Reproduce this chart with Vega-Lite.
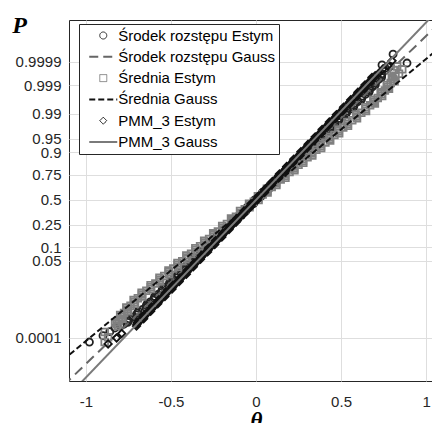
{
  "$schema": "https://vega.github.io/schema/vega-lite/v6.json",
  "autosize": {"type": "none"},
  "padding": {"left": 69, "top": 20, "right": 0, "bottom": 42},
  "width": 363,
  "height": 361,
  "background": "white",
  "config": {
    "view": {"stroke": "#262626", "strokeWidth": 1},
    "font": "Liberation Sans",
    "axis": {"labelFont": "Liberation Sans", "labelFontSize": 15, "labelColor": "#262626", "gridColor": "#dedede", "gridWidth": 1, "domain": false, "ticks": false}
  },
  "datasets": {
    "circ": [
      {"theta": -0.798, "z": -3.4}, {"theta": -0.755, "z": -3.3}, {"theta": -0.745, "z": -3.2}, {"theta": -0.702, "z": -3.1}, {"theta": -0.693, "z": -3.0},
      {"theta": -0.648, "z": -2.9}, {"theta": -0.641, "z": -2.8}, {"theta": -0.603, "z": -2.7}, {"theta": -0.596, "z": -2.6}, {"theta": -0.558, "z": -2.5},
      {"theta": -0.551, "z": -2.4}, {"theta": -0.512, "z": -2.3}, {"theta": -0.506, "z": -2.2}, {"theta": -0.467, "z": -2.1}, {"theta": -0.460, "z": -2.0},
      {"theta": -0.422, "z": -1.9}, {"theta": -0.415, "z": -1.8}, {"theta": -0.377, "z": -1.7}, {"theta": -0.370, "z": -1.6}, {"theta": -0.331, "z": -1.5},
      {"theta": -0.325, "z": -1.4}, {"theta": -0.286, "z": -1.3}, {"theta": -0.279, "z": -1.2}, {"theta": -0.241, "z": -1.1}, {"theta": -0.234, "z": -1.0},
      {"theta": -0.196, "z": -0.9}, {"theta": -0.189, "z": -0.8}, {"theta": -0.150, "z": -0.7}, {"theta": -0.144, "z": -0.6}, {"theta": -0.105, "z": -0.5},
      {"theta": -0.098, "z": -0.4}, {"theta": -0.060, "z": -0.3}, {"theta": -0.053, "z": -0.2}, {"theta": -0.015, "z": -0.1}, {"theta": -0.008, "z": 0.0},
      {"theta": 0.031, "z": 0.1}, {"theta": 0.037, "z": 0.2}, {"theta": 0.076, "z": 0.3}, {"theta": 0.082, "z": 0.4}, {"theta": 0.121, "z": 0.5},
      {"theta": 0.128, "z": 0.6}, {"theta": 0.166, "z": 0.7}, {"theta": 0.173, "z": 0.8}, {"theta": 0.212, "z": 0.9}, {"theta": 0.218, "z": 1.0},
      {"theta": 0.257, "z": 1.1}, {"theta": 0.263, "z": 1.2}, {"theta": 0.302, "z": 1.3}, {"theta": 0.309, "z": 1.4}, {"theta": 0.347, "z": 1.5},
      {"theta": 0.354, "z": 1.6}, {"theta": 0.393, "z": 1.7}, {"theta": 0.399, "z": 1.8}, {"theta": 0.438, "z": 1.9}, {"theta": 0.444, "z": 2.0},
      {"theta": 0.483, "z": 2.1}, {"theta": 0.490, "z": 2.2}, {"theta": 0.528, "z": 2.3}, {"theta": 0.535, "z": 2.4}, {"theta": 0.574, "z": 2.5},
      {"theta": 0.580, "z": 2.6}, {"theta": 0.619, "z": 2.7}, {"theta": 0.625, "z": 2.8}, {"theta": 0.664, "z": 2.9}, {"theta": 0.667, "z": 3.0},
      {"theta": 0.701, "z": 3.1}, {"theta": 0.704, "z": 3.2}, {"theta": 0.738, "z": 3.3}, {"theta": 0.740, "z": 3.4},
      {"theta": -0.777, "z": -3.35}, {"theta": -0.750, "z": -3.25}, {"theta": -0.723, "z": -3.15}, {"theta": -0.698, "z": -3.05}, {"theta": -0.667, "z": -2.95},
      {"theta": -0.645, "z": -2.85}, {"theta": -0.622, "z": -2.75}, {"theta": -0.599, "z": -2.65}, {"theta": -0.577, "z": -2.55}, {"theta": -0.554, "z": -2.45},
      {"theta": -0.532, "z": -2.35}, {"theta": -0.509, "z": -2.25}, {"theta": -0.486, "z": -2.15}, {"theta": -0.464, "z": -2.05}, {"theta": -0.441, "z": -1.95},
      {"theta": -0.418, "z": -1.85}, {"theta": -0.396, "z": -1.75}, {"theta": -0.373, "z": -1.65}, {"theta": -0.351, "z": -1.55}, {"theta": -0.328, "z": -1.45},
      {"theta": -0.305, "z": -1.35}, {"theta": -0.283, "z": -1.25}, {"theta": -0.260, "z": -1.15}, {"theta": -0.238, "z": -1.05}, {"theta": -0.215, "z": -0.95},
      {"theta": -0.192, "z": -0.85}, {"theta": -0.170, "z": -0.75}, {"theta": -0.147, "z": -0.65}, {"theta": -0.124, "z": -0.55}, {"theta": -0.102, "z": -0.45},
      {"theta": -0.079, "z": -0.35}, {"theta": -0.057, "z": -0.25}, {"theta": -0.034, "z": -0.15}, {"theta": -0.011, "z": -0.05},
      {"theta": 0.011, "z": 0.05}, {"theta": 0.034, "z": 0.15}, {"theta": 0.057, "z": 0.25}, {"theta": 0.079, "z": 0.35}, {"theta": 0.102, "z": 0.45},
      {"theta": 0.124, "z": 0.55}, {"theta": 0.147, "z": 0.65}, {"theta": 0.170, "z": 0.75}, {"theta": 0.192, "z": 0.85}, {"theta": 0.215, "z": 0.95},
      {"theta": 0.238, "z": 1.05}, {"theta": 0.260, "z": 1.15}, {"theta": 0.283, "z": 1.25}, {"theta": 0.305, "z": 1.35}, {"theta": 0.328, "z": 1.45},
      {"theta": 0.351, "z": 1.55}, {"theta": 0.373, "z": 1.65}, {"theta": 0.396, "z": 1.75}, {"theta": 0.418, "z": 1.85}, {"theta": 0.441, "z": 1.95},
      {"theta": 0.464, "z": 2.05}, {"theta": 0.486, "z": 2.15}, {"theta": 0.509, "z": 2.25}, {"theta": 0.532, "z": 2.35}, {"theta": 0.554, "z": 2.45},
      {"theta": 0.577, "z": 2.55}, {"theta": 0.599, "z": 2.65}, {"theta": 0.622, "z": 2.75}, {"theta": 0.645, "z": 2.85}, {"theta": 0.667, "z": 2.95},
      {"theta": 0.684, "z": 3.05}, {"theta": 0.702, "z": 3.15}, {"theta": 0.721, "z": 3.25}, {"theta": 0.739, "z": 3.35},
      {"theta": -0.98, "z": -3.83}, {"theta": -0.86, "z": -3.55}, {"theta": -0.90, "z": -3.66}, {"theta": -0.83, "z": -3.45},
      {"theta": 0.76, "z": 3.55}, {"theta": 0.741, "z": 3.64}, {"theta": 0.806, "z": 3.93}, {"theta": 0.888, "z": 3.69}, {"theta": 0.79, "z": 3.6}
    ],
    "sq": [
      {"theta": -0.811, "z": -3.4}, {"theta": -0.829, "z": -3.3}, {"theta": -0.785, "z": -3.2}, {"theta": -0.799, "z": -3.1}, {"theta": -0.752, "z": -3.0},
      {"theta": -0.763, "z": -2.9}, {"theta": -0.712, "z": -2.8}, {"theta": -0.720, "z": -2.7}, {"theta": -0.669, "z": -2.6}, {"theta": -0.673, "z": -2.5},
      {"theta": -0.617, "z": -2.4}, {"theta": -0.620, "z": -2.3}, {"theta": -0.564, "z": -2.2}, {"theta": -0.568, "z": -2.1}, {"theta": -0.511, "z": -2.0},
      {"theta": -0.515, "z": -1.9}, {"theta": -0.459, "z": -1.8}, {"theta": -0.462, "z": -1.7}, {"theta": -0.406, "z": -1.6}, {"theta": -0.410, "z": -1.5},
      {"theta": -0.353, "z": -1.4}, {"theta": -0.357, "z": -1.3}, {"theta": -0.301, "z": -1.2}, {"theta": -0.305, "z": -1.1}, {"theta": -0.248, "z": -1.0},
      {"theta": -0.252, "z": -0.9}, {"theta": -0.196, "z": -0.8}, {"theta": -0.199, "z": -0.7}, {"theta": -0.143, "z": -0.6}, {"theta": -0.147, "z": -0.5},
      {"theta": -0.090, "z": -0.4}, {"theta": -0.094, "z": -0.3}, {"theta": -0.038, "z": -0.2}, {"theta": -0.041, "z": -0.1}, {"theta": 0.015, "z": 0.0},
      {"theta": 0.011, "z": 0.1}, {"theta": 0.068, "z": 0.2}, {"theta": 0.064, "z": 0.3}, {"theta": 0.120, "z": 0.4}, {"theta": 0.117, "z": 0.5},
      {"theta": 0.173, "z": 0.6}, {"theta": 0.169, "z": 0.7}, {"theta": 0.226, "z": 0.8}, {"theta": 0.222, "z": 0.9}, {"theta": 0.278, "z": 1.0},
      {"theta": 0.275, "z": 1.1}, {"theta": 0.331, "z": 1.2}, {"theta": 0.327, "z": 1.3}, {"theta": 0.383, "z": 1.4}, {"theta": 0.380, "z": 1.5},
      {"theta": 0.436, "z": 1.6}, {"theta": 0.432, "z": 1.7}, {"theta": 0.489, "z": 1.8}, {"theta": 0.485, "z": 1.9}, {"theta": 0.541, "z": 2.0},
      {"theta": 0.538, "z": 2.1}, {"theta": 0.594, "z": 2.2}, {"theta": 0.590, "z": 2.3}, {"theta": 0.647, "z": 2.4}, {"theta": 0.643, "z": 2.5},
      {"theta": 0.699, "z": 2.6}, {"theta": 0.690, "z": 2.7}, {"theta": 0.742, "z": 2.8}, {"theta": 0.733, "z": 2.9}, {"theta": 0.782, "z": 3.0},
      {"theta": 0.769, "z": 3.1}, {"theta": 0.815, "z": 3.2}, {"theta": 0.799, "z": 3.3}, {"theta": 0.841, "z": 3.4},
      {"theta": -0.820, "z": -3.35}, {"theta": -0.807, "z": -3.25}, {"theta": -0.792, "z": -3.15}, {"theta": -0.776, "z": -3.05}, {"theta": -0.758, "z": -2.95},
      {"theta": -0.738, "z": -2.85}, {"theta": -0.716, "z": -2.75}, {"theta": -0.695, "z": -2.65}, {"theta": -0.671, "z": -2.55}, {"theta": -0.645, "z": -2.45},
      {"theta": -0.619, "z": -2.35}, {"theta": -0.592, "z": -2.25}, {"theta": -0.566, "z": -2.15}, {"theta": -0.540, "z": -2.05}, {"theta": -0.513, "z": -1.95},
      {"theta": -0.487, "z": -1.85}, {"theta": -0.461, "z": -1.75}, {"theta": -0.434, "z": -1.65}, {"theta": -0.408, "z": -1.55}, {"theta": -0.382, "z": -1.45},
      {"theta": -0.355, "z": -1.35}, {"theta": -0.329, "z": -1.25}, {"theta": -0.303, "z": -1.15}, {"theta": -0.276, "z": -1.05}, {"theta": -0.250, "z": -0.95},
      {"theta": -0.224, "z": -0.85}, {"theta": -0.197, "z": -0.75}, {"theta": -0.171, "z": -0.65}, {"theta": -0.145, "z": -0.55}, {"theta": -0.118, "z": -0.45},
      {"theta": -0.092, "z": -0.35}, {"theta": -0.066, "z": -0.25}, {"theta": -0.039, "z": -0.15}, {"theta": -0.013, "z": -0.05},
      {"theta": 0.013, "z": 0.05}, {"theta": 0.039, "z": 0.15}, {"theta": 0.066, "z": 0.25}, {"theta": 0.092, "z": 0.35}, {"theta": 0.118, "z": 0.45},
      {"theta": 0.145, "z": 0.55}, {"theta": 0.171, "z": 0.65}, {"theta": 0.197, "z": 0.75}, {"theta": 0.224, "z": 0.85}, {"theta": 0.250, "z": 0.95},
      {"theta": 0.276, "z": 1.05}, {"theta": 0.303, "z": 1.15}, {"theta": 0.329, "z": 1.25}, {"theta": 0.355, "z": 1.35}, {"theta": 0.382, "z": 1.45},
      {"theta": 0.408, "z": 1.55}, {"theta": 0.434, "z": 1.65}, {"theta": 0.461, "z": 1.75}, {"theta": 0.487, "z": 1.85}, {"theta": 0.513, "z": 1.95},
      {"theta": 0.540, "z": 2.05}, {"theta": 0.566, "z": 2.15}, {"theta": 0.592, "z": 2.25}, {"theta": 0.619, "z": 2.35}, {"theta": 0.645, "z": 2.45},
      {"theta": 0.671, "z": 2.55}, {"theta": 0.695, "z": 2.65}, {"theta": 0.716, "z": 2.75}, {"theta": 0.738, "z": 2.85}, {"theta": 0.758, "z": 2.95},
      {"theta": 0.776, "z": 3.05}, {"theta": 0.792, "z": 3.15}, {"theta": 0.807, "z": 3.25}, {"theta": 0.820, "z": 3.35},
      {"theta": -0.89, "z": -3.56}, {"theta": -0.89, "z": -3.83}, {"theta": -0.87, "z": -3.7},
      {"theta": 0.81, "z": 3.5}, {"theta": 0.83, "z": 3.6}, {"theta": 0.86, "z": 3.52}
    ],
    "dia": [
      {"theta": -0.703, "z": -3.4}, {"theta": -0.698, "z": -3.3}, {"theta": -0.661, "z": -3.2}, {"theta": -0.657, "z": -3.1}, {"theta": -0.620, "z": -3.0},
      {"theta": -0.615, "z": -2.9}, {"theta": -0.578, "z": -2.8}, {"theta": -0.573, "z": -2.7}, {"theta": -0.536, "z": -2.6}, {"theta": -0.531, "z": -2.5},
      {"theta": -0.494, "z": -2.4}, {"theta": -0.489, "z": -2.3}, {"theta": -0.452, "z": -2.2}, {"theta": -0.447, "z": -2.1}, {"theta": -0.410, "z": -2.0},
      {"theta": -0.405, "z": -1.9}, {"theta": -0.369, "z": -1.8}, {"theta": -0.364, "z": -1.7}, {"theta": -0.327, "z": -1.6}, {"theta": -0.322, "z": -1.5},
      {"theta": -0.285, "z": -1.4}, {"theta": -0.280, "z": -1.3}, {"theta": -0.243, "z": -1.2}, {"theta": -0.238, "z": -1.1}, {"theta": -0.201, "z": -1.0},
      {"theta": -0.196, "z": -0.9}, {"theta": -0.159, "z": -0.8}, {"theta": -0.154, "z": -0.7}, {"theta": -0.118, "z": -0.6}, {"theta": -0.113, "z": -0.5},
      {"theta": -0.076, "z": -0.4}, {"theta": -0.071, "z": -0.3}, {"theta": -0.034, "z": -0.2}, {"theta": -0.029, "z": -0.1}, {"theta": 0.008, "z": 0.0},
      {"theta": 0.013, "z": 0.1}, {"theta": 0.050, "z": 0.2}, {"theta": 0.055, "z": 0.3}, {"theta": 0.092, "z": 0.4}, {"theta": 0.097, "z": 0.5},
      {"theta": 0.134, "z": 0.6}, {"theta": 0.138, "z": 0.7}, {"theta": 0.175, "z": 0.8}, {"theta": 0.180, "z": 0.9}, {"theta": 0.217, "z": 1.0},
      {"theta": 0.222, "z": 1.1}, {"theta": 0.259, "z": 1.2}, {"theta": 0.264, "z": 1.3}, {"theta": 0.301, "z": 1.4}, {"theta": 0.306, "z": 1.5},
      {"theta": 0.343, "z": 1.6}, {"theta": 0.348, "z": 1.7}, {"theta": 0.385, "z": 1.8}, {"theta": 0.389, "z": 1.9}, {"theta": 0.426, "z": 2.0},
      {"theta": 0.431, "z": 2.1}, {"theta": 0.468, "z": 2.2}, {"theta": 0.473, "z": 2.3}, {"theta": 0.510, "z": 2.4}, {"theta": 0.515, "z": 2.5},
      {"theta": 0.552, "z": 2.6}, {"theta": 0.557, "z": 2.7}, {"theta": 0.594, "z": 2.8}, {"theta": 0.599, "z": 2.9}, {"theta": 0.636, "z": 3.0},
      {"theta": 0.641, "z": 3.1}, {"theta": 0.677, "z": 3.2}, {"theta": 0.682, "z": 3.3}, {"theta": 0.719, "z": 3.4},
      {"theta": -0.701, "z": -3.35}, {"theta": -0.680, "z": -3.25}, {"theta": -0.659, "z": -3.15}, {"theta": -0.638, "z": -3.05}, {"theta": -0.617, "z": -2.95},
      {"theta": -0.596, "z": -2.85}, {"theta": -0.575, "z": -2.75}, {"theta": -0.554, "z": -2.65}, {"theta": -0.533, "z": -2.55}, {"theta": -0.513, "z": -2.45},
      {"theta": -0.492, "z": -2.35}, {"theta": -0.471, "z": -2.25}, {"theta": -0.450, "z": -2.15}, {"theta": -0.429, "z": -2.05}, {"theta": -0.408, "z": -1.95},
      {"theta": -0.387, "z": -1.85}, {"theta": -0.366, "z": -1.75}, {"theta": -0.345, "z": -1.65}, {"theta": -0.324, "z": -1.55}, {"theta": -0.303, "z": -1.45},
      {"theta": -0.282, "z": -1.35}, {"theta": -0.262, "z": -1.25}, {"theta": -0.241, "z": -1.15}, {"theta": -0.220, "z": -1.05}, {"theta": -0.199, "z": -0.95},
      {"theta": -0.178, "z": -0.85}, {"theta": -0.157, "z": -0.75}, {"theta": -0.136, "z": -0.65}, {"theta": -0.115, "z": -0.55}, {"theta": -0.094, "z": -0.45},
      {"theta": -0.073, "z": -0.35}, {"theta": -0.052, "z": -0.25}, {"theta": -0.031, "z": -0.15}, {"theta": -0.010, "z": -0.05},
      {"theta": 0.010, "z": 0.05}, {"theta": 0.031, "z": 0.15}, {"theta": 0.052, "z": 0.25}, {"theta": 0.073, "z": 0.35}, {"theta": 0.094, "z": 0.45},
      {"theta": 0.115, "z": 0.55}, {"theta": 0.136, "z": 0.65}, {"theta": 0.157, "z": 0.75}, {"theta": 0.178, "z": 0.85}, {"theta": 0.199, "z": 0.95},
      {"theta": 0.220, "z": 1.05}, {"theta": 0.241, "z": 1.15}, {"theta": 0.262, "z": 1.25}, {"theta": 0.282, "z": 1.35}, {"theta": 0.303, "z": 1.45},
      {"theta": 0.324, "z": 1.55}, {"theta": 0.345, "z": 1.65}, {"theta": 0.366, "z": 1.75}, {"theta": 0.387, "z": 1.85}, {"theta": 0.408, "z": 1.95},
      {"theta": 0.429, "z": 2.05}, {"theta": 0.450, "z": 2.15}, {"theta": 0.471, "z": 2.25}, {"theta": 0.492, "z": 2.35}, {"theta": 0.513, "z": 2.45},
      {"theta": 0.533, "z": 2.55}, {"theta": 0.554, "z": 2.65}, {"theta": 0.575, "z": 2.75}, {"theta": 0.596, "z": 2.85}, {"theta": 0.617, "z": 2.95},
      {"theta": 0.638, "z": 3.05}, {"theta": 0.659, "z": 3.15}, {"theta": 0.680, "z": 3.25}, {"theta": 0.701, "z": 3.35},
      {"theta": -0.87, "z": -3.88}, {"theta": -0.79, "z": -3.6}, {"theta": -0.82, "z": -3.72},
      {"theta": 0.745, "z": 3.52}, {"theta": 0.775, "z": 3.62}, {"theta": 0.80, "z": 3.75}
    ],
    "gaussC": [{"theta": -1.2, "z": -5.30}, {"theta": 1.2, "z": 5.30}],
    "gaussS": [{"theta": -1.3, "z": -4.94}, {"theta": 1.3, "z": 4.94}],
    "gaussD": [{"theta": -1.2, "z": -5.74}, {"theta": 1.2, "z": 5.74}]
  },
  "encoding": {
    "x": {
      "field": "theta", "type": "quantitative",
      "scale": {"domain": [-1.1, 1.035], "nice": false, "zero": false},
      "axis": {
        "values": [-1, -0.5, 0, 0.5, 1],
        "labelExpr": "'' + datum.value",
        "labelPadding": 13, "labelOverlap": false, "labelBound": false, "labelFlush": false,
        "title": "θ", "titleFont": "Liberation Serif", "titleFontStyle": "italic", "titleFontWeight": "bold",
        "titleFontSize": 23, "titleColor": "#000000", "titleX": 187, "titleY": 46, "titleAlign": "center", "titleBaseline": "alphabetic"
      }
    },
    "y": {
      "field": "z", "type": "quantitative",
      "scale": {"domain": [-4.88, 4.85], "nice": false, "zero": false},
      "axis": {
        "values": [-3.719, -1.645, -1.2816, -0.6745, 0, 0.6745, 1.2816, 1.645, 2.3263, 3.0902, 3.719],
        "labelExpr": "datum.value < -3 ? '0.0001' : datum.value < -1.5 ? '0.05' : datum.value < -1 ? '0.1' : datum.value < -0.5 ? '0.25' : datum.value < 0.5 ? '0.5' : datum.value < 1 ? '0.75' : datum.value < 1.5 ? '0.9' : datum.value < 2 ? '0.95' : datum.value < 2.7 ? '0.99' : datum.value < 3.4 ? '0.999' : '0.9999'",
        "labelPadding": 8, "labelOverlap": false, "labelBound": false, "labelFlush": false,
        "title": "P", "titleFont": "Liberation Serif", "titleFontStyle": "italic", "titleFontWeight": "bold",
        "titleFontSize": 24, "titleColor": "#000000", "titleAngle": 0, "titleX": -50, "titleY": 12, "titleAlign": "center", "titleBaseline": "alphabetic"
      }
    }
  },
  "layer": [
    {
      "data": {"name": "circ"},
      "mark": {"type": "point", "shape": "circle", "filled": false, "size": 50, "strokeWidth": 1.8, "opacity": 1},
      "encoding": {
        "color": {
          "datum": "Środek rozstępu Estym", "type": "nominal",
          "scale": {
            "domain": ["Środek rozstępu Estym", "Środek rozstępu Gauss", "Średnia Estym", "Średnia Gauss", "PMM_3 Estym", "PMM_3 Gauss"],
            "range": ["#222222", "#666666", "#808080", "#111111", "#111111", "#7a7a7a"]
          },
          "legend": {
            "title": null, "orient": "none", "legendX": 10, "legendY": 4,
            "padding": 4, "rowPadding": 5.3, "symbolSize": 49, "symbolOffset": 12.75, "labelOffset": 7.5,
            "symbolStrokeWidth": {"expr": "(datum.value == 'Środek rozstępu Gauss' || datum.value == 'Średnia Gauss' || datum.value == 'PMM_3 Gauss') ? 2 : 1"},
            "symbolFillColor": "transparent",
            "symbolType": {"expr": "(datum.value == 'Środek rozstępu Gauss' || datum.value == 'Średnia Gauss' || datum.value == 'PMM_3 Gauss') ? 'M-4,0H4' : datum.value == 'Środek rozstępu Estym' ? 'circle' : datum.value == 'Średnia Estym' ? 'square' : 'diamond'"},
            "symbolDash": {"expr": "datum.value == 'Środek rozstępu Gauss' ? [9,5] : datum.value == 'Średnia Gauss' ? [6,3] : [1,0]"},
            "labelFont": "Liberation Sans", "labelFontSize": 15, "labelColor": "#000000",
            "strokeColor": "#262626", "fillColor": "#ffffff", "cornerRadius": 0
          }
        }
      }
    },
    {
      "data": {"name": "gaussC"},
      "mark": {"type": "line", "strokeDash": [10, 6], "strokeWidth": 2, "clip": true},
      "encoding": {"color": {"datum": "Środek rozstępu Gauss", "type": "nominal"}}
    },
    {
      "data": {"name": "sq"},
      "mark": {"type": "point", "shape": "square", "filled": false, "size": 45, "strokeWidth": 1.8, "opacity": 1},
      "encoding": {"color": {"datum": "Średnia Estym", "type": "nominal"}}
    },
    {
      "data": {"name": "gaussS"},
      "mark": {"type": "line", "strokeDash": [6, 3], "strokeWidth": 2, "clip": true},
      "encoding": {"color": {"datum": "Średnia Gauss", "type": "nominal"}}
    },
    {
      "data": {"name": "dia"},
      "mark": {"type": "point", "shape": "diamond", "filled": false, "size": 55, "strokeWidth": 1.8, "opacity": 1},
      "encoding": {"color": {"datum": "PMM_3 Estym", "type": "nominal"}}
    },
    {
      "data": {"name": "gaussD"},
      "mark": {"type": "line", "strokeWidth": 2, "clip": true},
      "encoding": {"color": {"datum": "PMM_3 Gauss", "type": "nominal"}}
    }
  ]
}
